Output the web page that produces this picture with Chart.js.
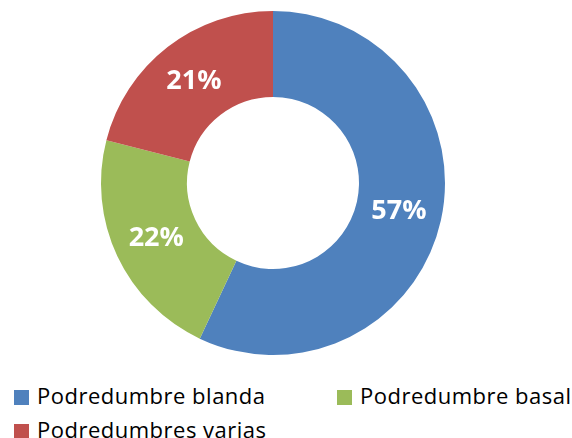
<!DOCTYPE html>
<html>
<head>
<meta charset="utf-8">
<script src="https://cdn.jsdelivr.net/npm/chart.js@4.4.0/dist/chart.umd.min.js"></script>
<style>
  body { margin: 0; background: #fff; }
  #wrap { position: relative; width: 572px; height: 438px; }
  #box { position: absolute; left: 0; top: 0; width: 572px; height: 366px; }
  .item { position: absolute; font-family: "Open Sans", sans-serif; font-size: 22px; letter-spacing: 0.5px; color: #000; white-space: nowrap; line-height: 1; }
  .item span { display: inline-block; width: 15px; height: 15px; margin-right: 8px; vertical-align: -1px; }
</style>
</head>
<body>
<div id="wrap">
  <div id="box"><canvas id="pieChart" width="572" height="366"></canvas></div>
  <div id="legend"></div>
</div>
<script>
const labels = ['Podredumbre blanda', 'Podredumbre basal', 'Podredumbres varias'];
const values = [57, 22, 21];
const colors = ['#4F81BD', '#9BBB59', '#C0504D'];

// legend spots, same order as labels
const legendPos = [[14, 384], [337, 384], [14, 418]];
const legend = document.getElementById('legend');
labels.forEach((name, i) => {
    const div = document.createElement('div');
    div.className = 'item';
    div.style.left = legendPos[i][0] + 'px';
    div.style.top = legendPos[i][1] + 'px';
    div.innerHTML = '<span style="background:' + colors[i] + '"></span>' + name;
    legend.appendChild(div);
});

// percent labels in the middle of each slice
const sliceLabels = {
    id: 'sliceLabels',
    afterDatasetsDraw(chart) {
        const ctx = chart.ctx;
        const total = values.reduce((a, b) => a + b, 0);
        ctx.save();
        ctx.font = 'bold 27px "Open Sans", sans-serif';
        ctx.fillStyle = '#fff';
        ctx.textAlign = 'center';
        ctx.textBaseline = 'middle';
        chart.getDatasetMeta(0).data.forEach((arc, i) => {
            const p = arc.tooltipPosition();
            ctx.fillText(Math.round(values[i] / total * 100) + '%', p.x, p.y);
        });
        ctx.restore();
    }
};

const ctx = document.getElementById('pieChart').getContext('2d');
new Chart(ctx, {
    type: 'doughnut',
    data: {
        labels: labels,
        datasets: [{
            data: values,
            backgroundColor: colors,
            borderWidth: 0
        }]
    },
    options: {
        responsive: false,
        animation: false,
        cutout: '50%',
        layout: { padding: { top: 11, bottom: 11, left: 0, right: 26 } },
        plugins: {
            legend: { display: false },
            tooltip: { enabled: false }
        }
    },
    plugins: [sliceLabels]
});
</script>
</body>
</html>
